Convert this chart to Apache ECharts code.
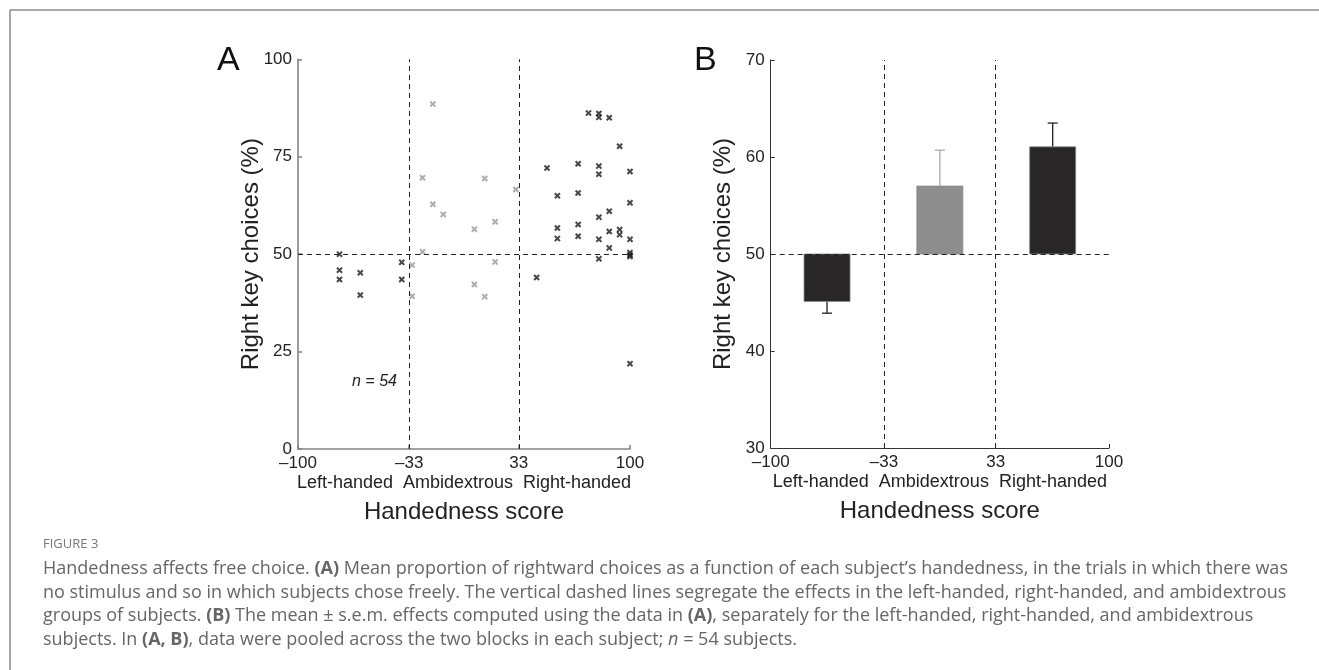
<!DOCTYPE html>
<html><head><meta charset="utf-8">
<script src="https://cdn.jsdelivr.net/npm/echarts@6/dist/echarts.min.js"></script>
<style>html,body{margin:0;padding:0;background:#fff}#c{width:1319px;height:670px}</style>
</head><body><div id="c"></div>
<script>
// ---------- data ----------
const xTickValues = [-100, -33, 33, 100];
const groupBoundaries = [-33, 33];
const chanceLevel = 50;
const groupNames = ['Left-handed', 'Ambidextrous', 'Right-handed'];
// panel A: [handedness score, right key choices %]
const leftHanded = [[-75, 50], [-75, 45.9], [-75, 43.5], [-62.5, 45.2], [-62.5, 39.5], [-37.5, 47.9], [-37.5, 43.5]];
const ambidextrous = [[-18.75, 88.5], [-25, 69.6], [12.5, 69.4], [31.25, 66.6], [-18.75, 62.8], [-12.5, 60.2], [6.25, 56.4],
  [18.75, 58.3], [-25, 50.6], [-31.25, 47.2], [18.75, 48.0], [-31.25, 39.2], [6.25, 42.2], [12.5, 39.1]];
const rightHanded = [[75, 86.2], [81.25, 86.1], [81.25, 85.1], [87.5, 85.0], [93.75, 77.7], [50, 72.1], [68.75, 73.2],
  [81.25, 72.6], [81.25, 70.5], [100, 71.2], [56.25, 65.0], [68.75, 65.7], [100, 63.2], [87.5, 61.0], [81.25, 59.5],
  [56.25, 56.7], [68.75, 57.6], [87.5, 55.8], [93.75, 56.3], [93.75, 55.0], [56.25, 54.0], [68.75, 54.6], [81.25, 53.8],
  [100, 53.8], [87.5, 51.6], [100, 50.4], [100, 49.8], [100, 49.4], [81.25, 48.8], [43.75, 44.0], [100, 21.9]];
// panel B: group means ± s.e.m.
const barCenters = [-66.7, 0, 66.7];
const barMeans = [45.1, 57.0, 61.05];
const barSem = [1.2, 3.7, 2.45];
const barWidthUnits = 27.2;

// ---------- styles ----------
const FONT = 'Liberation Sans, Arial, sans-serif';
const BLACK = '#1c1a1b';
const GRAY = '#9a9a9a';
const barFill = ['#282627', '#8e8e8e', '#282627'];
const errColor = ['#222', '#aaa', '#222'];
const fmt = v => (v < 0 ? '\u2013' + Math.abs(v) : String(v));
const xMark = 'path://M0,2.2L2.2,0L5,2.8L7.8,0L10,2.2L7.2,5L10,7.8L7.8,10L5,7.2L2.2,10L0,7.8L2.8,5Z';

const dashStyle = { color: '#222', width: 1, type: [5, 4] };
function guides() {
  return {
    silent: true, symbol: 'none', label: { show: false }, lineStyle: dashStyle,
    data: [...groupBoundaries.map(v => ({ xAxis: v })), { yAxis: chanceLevel }]
  };
}

function xAxisCfg(gridIndex, lineColor, lineWidth) {
  return {
    gridIndex, type: 'value', min: -100, max: 100,
    name: '{a|' + groupNames.join('  ') + '}\n{b|Handedness score}',
    nameLocation: 'middle', nameGap: 24, nameMoveOverlap: false,
    nameTextStyle: {
      rich: {
        a: { fontFamily: FONT, fontSize: 18, color: '#222', lineHeight: 20 },
        b: { fontFamily: FONT, fontSize: 24, color: '#222', lineHeight: 38 }
      }
    },
    splitLine: { show: false },
    axisLine: { show: true, onZero: false, lineStyle: { color: lineColor, width: lineWidth } },
    axisTick: { show: true, inside: true, length: 4, customValues: xTickValues, lineStyle: { color: lineColor, width: lineWidth } },
    axisLabel: { customValues: xTickValues, formatter: fmt, fontFamily: FONT, fontSize: 17, color: '#222', margin: 6 }
  };
}
function yAxisCfg(gridIndex, min, max, interval, lineColor, lineWidth) {
  return {
    gridIndex, type: 'value', min, max, interval,
    name: 'Right key choices (%)', nameLocation: 'middle', nameGap: 35, nameMoveOverlap: false,
    nameTextStyle: { fontFamily: FONT, fontSize: 24, color: '#222' },
    splitLine: { show: false },
    axisLine: { show: true, onZero: false, lineStyle: { color: lineColor, width: lineWidth } },
    axisTick: { show: true, inside: true, length: 4, lineStyle: { color: lineColor, width: lineWidth } },
    axisLabel: { fontFamily: FONT, fontSize: 17, color: '#222', margin: 6 }
  };
}

const captionLines = [
  'Handedness affects free choice. {b|(A)} Mean proportion of rightward choices as a function of each subject\u2019s handedness, in the trials in which there was',
  'no stimulus and so in which subjects chose freely. The vertical dashed lines segregate the effects in the left-handed, right-handed, and ambidextrous',
  'groups of subjects. {b|(B)} The mean \u00b1 s.e.m. effects computed using the data in {b|(A)}, separately for the left-handed, right-handed, and ambidextrous',
  'subjects. In {b|(A, B)}, data were pooled across the two blocks in each subject; {i|n} = 54 subjects.'
];
const CAPFONT = 'Open Sans, Noto Sans, sans-serif';
const CAPSIZE = 18;
const capRich = {
  b: { fontFamily: CAPFONT, fontSize: CAPSIZE, fontWeight: 'bold', color: '#3c3c3c' },
  i: { fontFamily: CAPFONT, fontSize: CAPSIZE, fontStyle: 'italic', color: '#666' }
};

const graphics = [
  { type: 'line', shape: { x1: 10, y1: 10, x2: 1319, y2: 10 }, style: { stroke: '#8a8a8a', lineWidth: 1.5 } },
  { type: 'line', shape: { x1: 10, y1: 10, x2: 10, y2: 670 }, style: { stroke: '#8a8a8a', lineWidth: 1.5 } },
  { type: 'text', left: 217, top: 44, style: { text: 'A', fontFamily: FONT, fontSize: 34, fill: '#111' } },
  { type: 'text', left: 694, top: 44, style: { text: 'B', fontFamily: FONT, fontSize: 34, fill: '#111' } },
  { type: 'text', left: 352, top: 374, style: { text: 'n = 54', fontFamily: FONT, fontSize: 16, fontStyle: 'italic', fill: '#222' } },
  { type: 'text', left: 43, top: 538, style: { text: 'FIGURE 3', fontFamily: CAPFONT, fontSize: 13, fill: '#777' } },
  ...captionLines.map((t, i) => ({
    type: 'text', left: 43, top: 560 + i * 23.5,
    style: { text: t, rich: capRich, fontFamily: CAPFONT, fontSize: CAPSIZE, fill: '#666' }
  }))
];

const option = {
  animation: false,
  backgroundColor: '#fff',
  grid: [
    { left: 298, top: 59.3, width: 332, height: 389.7 },
    { left: 770.7, top: 60, width: 338.3, height: 388 }
  ],
  xAxis: [xAxisCfg(0, '#858585', 1.6), xAxisCfg(1, '#333', 1)],
  yAxis: [yAxisCfg(0, 0, 100, 25, '#858585', 1.6), yAxisCfg(1, 30, 70, 10, '#333', 1)],
  graphic: graphics,
  series: [
    { type: 'scatter', xAxisIndex: 0, yAxisIndex: 0, data: leftHanded, symbol: xMark, symbolSize: 6.5,
      itemStyle: { color: BLACK }, markLine: guides() },
    { type: 'scatter', xAxisIndex: 0, yAxisIndex: 0, data: ambidextrous, symbol: xMark, symbolSize: 6.5,
      itemStyle: { color: GRAY } },
    { type: 'scatter', xAxisIndex: 0, yAxisIndex: 0, data: rightHanded, symbol: xMark, symbolSize: 6.5,
      itemStyle: { color: BLACK } },
    { type: 'custom', xAxisIndex: 1, yAxisIndex: 1,
      data: barCenters.map((c, i) => [c, barMeans[i], barSem[i]]),
      encode: { x: 0, y: 1 },
      renderItem(params, api) {
        const cx = api.value(0), mean = api.value(1), err = api.value(2);
        const half = api.size([barWidthUnits, 0])[0] / 2;
        const p0 = api.coord([cx, chanceLevel]);
        const p1 = api.coord([cx, mean]);
        const tip = api.coord([cx, mean + Math.sign(mean - chanceLevel) * err]);
        const i = params.dataIndex;
        const es = { stroke: errColor[i], lineWidth: 1.3 };
        return { type: 'group', children: [
          { type: 'line', shape: { x1: p1[0], y1: p1[1], x2: tip[0], y2: tip[1] }, style: es },
          { type: 'line', shape: { x1: tip[0] - 5, y1: tip[1], x2: tip[0] + 5, y2: tip[1] }, style: es },
          { type: 'rect', shape: { x: p0[0] - half, y: Math.min(p0[1], p1[1]), width: 2 * half, height: Math.abs(p1[1] - p0[1]) },
            style: { fill: barFill[i], stroke: '#888', lineWidth: 0.8 } }
        ] };
      },
      markLine: guides()
    }
  ]
};
const chart = echarts.init(document.getElementById('c'));
chart.setOption(option);
</script></body></html>
